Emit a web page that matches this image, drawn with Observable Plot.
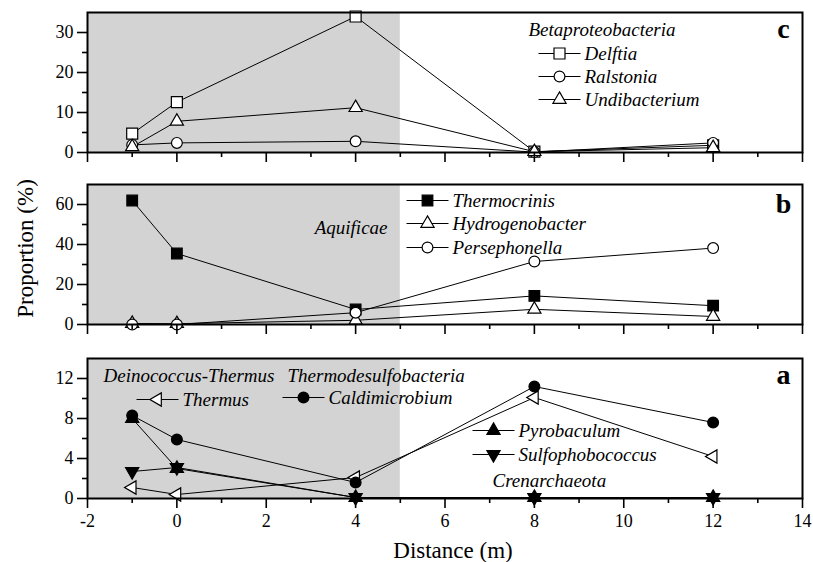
<!DOCTYPE html>
<html><head><meta charset="utf-8">
<script src="https://cdn.jsdelivr.net/npm/d3@7"></script>
<script src="https://cdn.jsdelivr.net/npm/@observablehq/plot@0.6"></script>
<style>
body{margin:0;background:#fff}
#chart{position:relative;width:813px;height:562px;background:#fff;overflow:hidden}
#chart svg{position:absolute;left:0;font-family:"Liberation Serif","Times New Roman",serif !important;font-size:18px !important;overflow:visible}
</style></head><body><div id="chart"></div><script>
// ---- data ----
const distance = [-1, 0, 4, 8, 12];
// panel c: Betaproteobacteria
const delftia = [4.7, 12.6, 34.0, 0.2, 1.8];
const ralstonia = [1.9, 2.4, 2.8, 0.1, 2.4];
const undibacterium = [1.4, 7.8, 11.2, 0.2, 1.2];
// panel b: Aquificae
const thermocrinis = [62.0, 35.5, 7.5, 14.3, 9.4];
const hydrogenobacter = [0.5, 0.4, 2.1, 7.6, 4.0];
const persephonella = [0.0, 0.0, 5.9, 31.5, 38.2];
// panel a
const thermus = [1.1, 0.4, 2.1, 10.1, 4.2];
const caldimicrobium = [8.3, 5.9, 1.6, 11.2, 7.6];
const pyrobaculum = [8.0, 3.0, 0.1, 0.1, 0.1];
const sulfophobococcus = [2.7, 3.1, 0.1, 0.1, 0.1];

const xDomain = [-2, 14];
const xMajor = [-2, 0, 2, 4, 6, 8, 10, 12, 14];
const xMinor = [-1, 1, 3, 5, 7, 9, 11, 13];
const shade = [-2, 5];
const yMajorC = [0, 10, 20, 30], yMinorC = [5, 15, 25], yMaxC = 35;
const yMajorB = [0, 20, 40, 60], yMinorB = [10, 30, 50], yMaxB = 70;
const yMajorA = [0, 4, 8, 12], yMinorA = [2, 6, 10], yMaxA = 14;

// ---- styles ----
const FONT = '"Liberation Serif", "Times New Roman", serif';
const sty = {
  openSquare: {symbol: "square", r: 6.2, fill: "white"},
  openCircle: {symbol: "circle", r: 5.4, fill: "white"},
  openTri: {symbol: "triangle", r: 4.9, fill: "white"},
  filledSquare: {symbol: "square", r: 6.0, fill: "black"},
  filledCircle: {symbol: "circle", r: 5.4, fill: "black"},
  upTri: {symbol: "triangle", r: 4.9, fill: "black"},
  downTri: {symbol: "triangle", r: 4.9, fill: "black", rotate: 180},
  leftTri: {symbol: "triangle", r: 4.9, fill: "white", rotate: -90}
};
const lineSym = {draw(ctx) { ctx.moveTo(-21, 0); ctx.lineTo(21, 0); }};

const rows = (vals) => distance.map((x, i) => ({x, y: vals[i]}));

function legendItem(st, label, dx, dy) {
  return [
    Plot.dot([0], {frameAnchor: "top-left", dx, dy, symbol: lineSym, stroke: "black", strokeWidth: 1}),
    Plot.dot([0], {frameAnchor: "top-left", dx, dy, symbol: st.symbol, r: st.r, fill: st.fill, stroke: "black", strokeWidth: 1.2, rotate: st.rotate || 0}),
    Plot.text([label], {frameAnchor: "top-left", dx: dx + 25, dy, text: d => d, textAnchor: "start", lineAnchor: "middle", fontStyle: "italic", fontSize: 19, fontFamily: FONT})
  ];
}
function note(label, dx, dy, anchor = "start") {
  return Plot.text([label], {frameAnchor: "top-left", dx, dy, text: d => d, textAnchor: anchor, lineAnchor: "middle", fontStyle: "italic", fontSize: 19, fontFamily: FONT});
}
function letter(l, dy) {
  return Plot.text([l], {frameAnchor: "top-right", dx: -19, dy, text: d => d, textAnchor: "middle", lineAnchor: "middle", fontWeight: "bold", fontSize: 28, fontFamily: FONT});
}

function panel({top, marginBottom, ymax, yMajor, yMinor, series, extras, showX}) {
  const height = 12 + 140 + marginBottom;
  const marks = [
    Plot.rect([shade], {x1: d => d[0], x2: d => d[1], fill: "#d3d3d3"}),
    ...series.map(s => Plot.line(rows(s.v), {x: "x", y: "y", stroke: "black", strokeWidth: 1})),
    ...series.map(s => Plot.dot(rows(s.v), {x: "x", y: "y", symbol: s.st.symbol, r: s.st.r, fill: s.st.fill, stroke: "black", strokeWidth: 1.2, rotate: s.st.rotate || 0})),
    Plot.axisX({ticks: xMajor, tickSize: 10, tickPadding: 6, tickFormat: showX ? (d => String(d)) : (() => ""), strokeWidth: 1.6, label: null, fontSize: 18, fontFamily: FONT}),
    Plot.axisX({ticks: xMinor, tickSize: 5, tickFormat: () => "", strokeWidth: 1.6, label: null}),
    Plot.axisY({ticks: yMajor, tickSize: 10, tickPadding: 4, tickFormat: d => String(d), strokeWidth: 1.6, label: null, fontSize: 18, fontFamily: FONT}),
    Plot.axisY({ticks: yMinor, tickSize: 5, tickFormat: () => "", strokeWidth: 1.6, label: null}),
    Plot.frame({stroke: "black", strokeWidth: 2}),
    ...extras
  ];
  const svg = Plot.plot({
    width: 813, height,
    marginLeft: 87, marginRight: 11, marginTop: 12, marginBottom,
    x: {domain: xDomain},
    y: {domain: [0, ymax]},
    style: {fontFamily: FONT, fontSize: "18px", color: "black", background: "transparent", overflow: "visible"},
    marks
  });
  svg.style.top = top + "px";
  document.getElementById("chart").appendChild(svg);
}

panel({
  top: 0, marginBottom: 8, ymax: yMaxC, yMajor: yMajorC, yMinor: yMinorC, showX: false,
  series: [
    {v: delftia, st: sty.openSquare},
    {v: ralstonia, st: sty.openCircle},
    {v: undibacterium, st: sty.openTri}
  ],
  extras: [
    note("Betaproteobacteria", 441, 17),
    ...legendItem(sty.openSquare, "Delftia", 472, 41),
    ...legendItem(sty.openCircle, "Ralstonia", 472, 64),
    ...legendItem(sty.openTri, "Undibacterium", 472, 87),
    letter("c", 17)
  ]
});

panel({
  top: 172, marginBottom: 8, ymax: yMaxB, yMajor: yMajorB, yMinor: yMinorB, showX: false,
  series: [
    {v: thermocrinis, st: sty.filledSquare},
    {v: hydrogenobacter, st: sty.openTri},
    {v: persephonella, st: sty.openCircle}
  ],
  extras: [
    note("Aquificae", 300, 43, "end"),
    ...legendItem(sty.filledSquare, "Thermocrinis", 340, 16),
    ...legendItem(sty.openTri, "Hydrogenobacter", 340, 39),
    ...legendItem(sty.openCircle, "Persephonella", 340, 63),
    letter("b", 20),
    Plot.text(["Proportion (%)"], {frameAnchor: "left", dx: -62, dy: -6, rotate: -90, text: d => d, textAnchor: "middle", lineAnchor: "middle", fontSize: 23, fontFamily: FONT})
  ]
});

panel({
  top: 346, marginBottom: 64, ymax: yMaxA, yMajor: yMajorA, yMinor: yMinorA, showX: true,
  series: [
    {v: thermus, st: sty.leftTri},
    {v: pyrobaculum, st: sty.upTri},
    {v: sulfophobococcus, st: sty.downTri},
    {v: caldimicrobium, st: sty.filledCircle}
  ],
  extras: [
    note("Deinococcus-Thermus", 16, 17),
    ...legendItem(sty.leftTri, "Thermus", 70, 41),
    note("Thermodesulfobacteria", 200, 17),
    ...legendItem(sty.filledCircle, "Caldimicrobium", 216, 39),
    ...legendItem(sty.upTri, "Pyrobaculum", 406, 72),
    ...legendItem(sty.downTri, "Sulfophobococcus", 406, 96),
    note("Crenarchaeota", 405, 122),
    letter("a", 17),
    Plot.text(["Distance (m)"], {frameAnchor: "bottom", dx: 8, dy: 52, text: d => d, textAnchor: "middle", lineAnchor: "middle", fontSize: 23, fontFamily: FONT})
  ]
});
</script></body></html>
